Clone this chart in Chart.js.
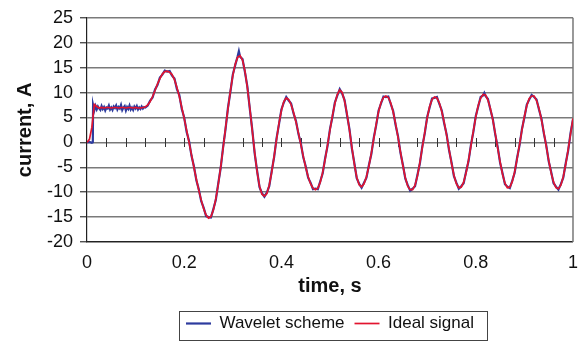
<!DOCTYPE html>
<html>
<head>
<meta charset="utf-8">
<script src="https://cdn.jsdelivr.net/npm/chart.js@4.4.0/dist/chart.umd.min.js"></script>
<style>
  html, body { margin: 0; padding: 0; background: #fff; }
  #wrap { width: 588px; height: 342px; }
</style>
</head>
<body>
<div id="wrap"><canvas id="currentChart" width="588" height="342"></canvas></div>
<script>
// ==================== CURRENT vs TIME ====================
// ideal signal, sampled every 5 ms
const idealTime = [
  0, 0.005, 0.01, 0.015, 0.02, 0.025, 0.03, 0.035, 0.04, 0.045, 0.05, 0.055, 0.06, 0.065, 0.07, 0.075, 0.08, 0.085, 0.09, 0.095,
  0.1, 0.105, 0.11, 0.115, 0.12, 0.125, 0.13, 0.135, 0.14, 0.145, 0.15, 0.155, 0.16, 0.165, 0.17, 0.175, 0.18, 0.185, 0.19, 0.195,
  0.2, 0.205, 0.21, 0.215, 0.22, 0.225, 0.23, 0.235, 0.24, 0.245, 0.25, 0.255, 0.26, 0.265, 0.27, 0.275, 0.28, 0.285, 0.29, 0.295,
  0.3, 0.305, 0.31, 0.315, 0.32, 0.325, 0.33, 0.335, 0.34, 0.345, 0.35, 0.355, 0.36, 0.365, 0.37, 0.375, 0.38, 0.385, 0.39, 0.395,
  0.4, 0.405, 0.41, 0.415, 0.42, 0.425, 0.43, 0.435, 0.44, 0.445, 0.45, 0.455, 0.46, 0.465, 0.47, 0.475, 0.48, 0.485, 0.49, 0.495,
  0.5, 0.505, 0.51, 0.515, 0.52, 0.525, 0.53, 0.535, 0.54, 0.545, 0.55, 0.555, 0.56, 0.565, 0.57, 0.575, 0.58, 0.585, 0.59, 0.595,
  0.6, 0.605, 0.61, 0.615, 0.62, 0.625, 0.63, 0.635, 0.64, 0.645, 0.65, 0.655, 0.66, 0.665, 0.67, 0.675, 0.68, 0.685, 0.69, 0.695,
  0.7, 0.705, 0.71, 0.715, 0.72, 0.725, 0.73, 0.735, 0.74, 0.745, 0.75, 0.755, 0.76, 0.765, 0.77, 0.775, 0.78, 0.785, 0.79, 0.795,
  0.8, 0.805, 0.81, 0.815, 0.82, 0.825, 0.83, 0.835, 0.84, 0.845, 0.85, 0.855, 0.86, 0.865, 0.87, 0.875, 0.88, 0.885, 0.89, 0.895,
  0.9, 0.905, 0.91, 0.915, 0.92, 0.925, 0.93, 0.935, 0.94, 0.945, 0.95, 0.955, 0.96, 0.965, 0.97, 0.975, 0.98, 0.985, 0.99, 0.995,
  1
];
const idealCurrent = [
  0, 0.6, 3.0, 7.6, 7.2, 6.9, 7.0, 6.9, 7.0, 7.0, 6.9, 7.0, 7.0, 6.9, 7.0, 7.0, 6.9, 7.0, 7.0, 6.9,
  7.0, 6.9, 6.9, 7.0, 7.1, 7.5, 8.2, 9.2, 10.4, 11.7, 12.8, 13.7, 14.2, 14.3, 14.1, 13.6, 12.6, 11.0, 9.2, 7.0,
  4.8, 2.4, 0.0, -2.5, -5.0, -7.4, -9.6, -11.6, -13.3, -14.6, -15.2, -14.9, -13.6, -11.4, -8.5, -5.0, -1.2, 2.8, 6.7, 10.3,
  13.4, 15.7, 17.1, 17.4, 16.5, 14.3, 11.0, 6.9, 2.4, -2.0, -5.9, -8.8, -10.4, -10.8, -10.3, -8.6, -6.0, -2.8, 0.6, 3.8,
  6.4, 8.2, 8.9, 8.6, 7.6, 6.0, 4.1, 1.9, -0.4, -2.8, -5.0, -6.9, -8.3, -9.2, -9.5, -9.2, -8.0, -6.0, -3.4, -0.5,
  2.5, 5.3, 7.8, 9.6, 10.5, 10.0, 8.3, 5.7, 2.5, -1.0, -4.3, -7.0, -8.5, -8.9, -8.3, -6.9, -4.8, -2.2, 0.7, 3.6,
  6.2, 8.0, 9.0, 9.3, 9.0, 7.9, 6.1, 3.7, 1.0, -1.9, -4.7, -7.1, -8.8, -9.5, -9.5, -8.6, -6.7, -4.0, -1.0, 2.0,
  4.9, 7.2, 8.6, 9.1, 8.9, 7.9, 6.2, 4.0, 1.4, -1.4, -4.2, -6.6, -8.3, -9.1, -9.0, -8.0, -6.1, -3.6, -0.7, 2.3,
  5.1, 7.4, 8.9, 9.6, 9.5, 8.5, 6.8, 4.5, 1.8, -1.1, -3.9, -6.4, -8.2, -9.1, -9.0, -7.9, -5.9, -3.3, -0.4, 2.5,
  5.2, 7.4, 8.8, 9.3, 9.3, 8.4, 6.8, 4.6, 2.0, -0.8, -3.6, -6.1, -8.0, -9.1, -9.3, -8.6, -6.9, -4.4, -1.5, 1.7,
  4.8
];

// wavelet scheme output (noisy), denser where the jitter is visible
const waveletTime = [
  0, 0.005, 0.01, 0.012,
  0.0125, 0.015, 0.0175, 0.02, 0.0225, 0.025, 0.0275, 0.03, 0.0325, 0.035, 0.0375, 0.04, 0.0425, 0.045, 0.0475, 0.05, 0.0525, 0.055, 0.0575, 0.06,
  0.0625, 0.065, 0.0675, 0.07, 0.0725, 0.075, 0.0775, 0.08, 0.0825, 0.085, 0.0875, 0.09, 0.0925, 0.095, 0.0975, 0.1, 0.1025, 0.105, 0.1075, 0.11,
  0.1125, 0.115, 0.1175, 0.12,
  0.125, 0.13, 0.135, 0.14, 0.145, 0.15, 0.155, 0.16, 0.165, 0.17, 0.175, 0.18, 0.185, 0.19, 0.195,
  0.2, 0.205, 0.21, 0.215, 0.22, 0.225, 0.23, 0.235, 0.24, 0.245, 0.25, 0.255, 0.26, 0.265, 0.27, 0.275, 0.28, 0.285, 0.29, 0.295,
  0.3, 0.305, 0.31, 0.3125, 0.315, 0.32, 0.325, 0.33, 0.335, 0.34, 0.345, 0.35, 0.355, 0.36, 0.365, 0.37, 0.375, 0.38, 0.385, 0.39, 0.395,
  0.4, 0.405, 0.41, 0.415, 0.42, 0.425, 0.43, 0.435, 0.44, 0.445, 0.45, 0.455, 0.46, 0.465, 0.47, 0.475, 0.48, 0.485, 0.49, 0.495,
  0.5, 0.505, 0.51, 0.515, 0.52, 0.525, 0.53, 0.535, 0.54, 0.545, 0.55, 0.555, 0.56, 0.565, 0.57, 0.575, 0.58, 0.585, 0.59, 0.595,
  0.6, 0.605, 0.61, 0.615, 0.62, 0.625, 0.63, 0.635, 0.64, 0.645, 0.65, 0.655, 0.66, 0.665, 0.67, 0.675, 0.68, 0.685, 0.69, 0.695,
  0.7, 0.705, 0.71, 0.715, 0.72, 0.725, 0.73, 0.735, 0.74, 0.745, 0.75, 0.755, 0.76, 0.765, 0.77, 0.775, 0.78, 0.785, 0.79, 0.795,
  0.8, 0.805, 0.81, 0.815, 0.8175, 0.82, 0.825, 0.83, 0.835, 0.84, 0.845, 0.85, 0.855, 0.86, 0.865, 0.87, 0.875, 0.88, 0.885, 0.89, 0.895,
  0.9, 0.905, 0.91, 0.915, 0.92, 0.925, 0.93, 0.935, 0.94, 0.945, 0.95, 0.955, 0.96, 0.965, 0.97, 0.975, 0.98, 0.985, 0.99, 0.995,
  1
];
const waveletCurrent = [
  0, 0.1, -0.1, 0.0,
  7.5, 6.4, 7.3, 6.6, 7.2, 6.8, 6.5, 7.3, 6.7, 7.1, 6.4, 7.0, 6.8, 7.4, 6.6, 7.0, 6.5, 7.2, 6.9, 7.4,
  6.6, 7.1, 6.8, 7.5, 6.5, 7.0, 7.3, 6.4, 7.1, 6.7, 7.4, 6.6, 7.0, 6.5, 7.2, 6.8, 7.3, 6.6, 7.0, 6.7,
  7.2, 6.8, 7.1, 7.0,
  7.4, 8.4, 9.0, 10.6, 11.5, 13.0, 13.6, 14.4, 14.2, 14.3, 13.4, 12.8, 10.7, 9.5, 6.7,
  5.0, 2.1, 0.3, -2.7, -4.8, -7.6, -9.4, -11.8, -13.1, -14.8, -15.0, -15.1, -13.4, -11.6, -8.3, -5.2, -1.0, 2.6, 6.9, 10.1,
  13.6, 15.5, 17.3, 18.3, 17.2, 16.7, 14.1, 11.2, 6.7, 2.6, -2.2, -5.7, -9.0, -10.2, -10.9, -10.1, -8.8, -5.8, -3.0, 0.8, 3.6,
  6.6, 8.0, 9.1, 8.4, 7.8, 5.8, 4.3, 1.7, -0.2, -3.0, -4.8, -7.1, -8.1, -9.4, -9.3, -9.4, -7.8, -6.2, -3.2, -0.7,
  2.7, 5.1, 8.0, 9.4, 10.7, 9.8, 8.5, 5.5, 2.7, -1.2, -4.1, -7.2, -8.3, -9.1, -8.1, -7.1, -4.6, -2.4, 0.9, 3.4,
  6.4, 7.8, 9.2, 9.1, 9.2, 7.7, 6.3, 3.5, 1.2, -2.1, -4.5, -7.3, -8.6, -9.7, -9.3, -8.8, -6.5, -4.2, -0.8, 1.8,
  5.1, 7.0, 8.8, 8.9, 9.1, 7.7, 6.4, 3.8, 1.6, -1.6, -4.0, -6.8, -8.1, -9.3, -8.8, -8.2, -5.9, -3.8, -0.5, 2.1,
  5.3, 7.2, 9.1, 9.4, 9.9, 9.3, 8.7, 6.6, 4.7, 1.6, -0.9, -4.1, -6.2, -8.4, -8.9, -9.2, -7.7, -6.1, -3.1, -0.6, 2.7,
  5.0, 7.6, 8.6, 9.5, 9.1, 8.6, 6.6, 4.8, 1.8, -0.6, -3.8, -5.9, -8.2, -8.9, -9.5, -8.4, -7.1, -4.2, -1.7, 1.9,
  4.6
];

const xTickLabels = ['0', '0.2', '0.4', '0.6', '0.8', '1'];
const yTickLabels = ['-20', '-15', '-10', '-5', '0', '5', '10', '15', '20', '25'];
// little tick marks sitting on the zero line
const zeroLineTicks = [0.04, 0.08, 0.12, 0.16, 0.2, 0.24, 0.28, 0.32, 0.36, 0.4, 0.44, 0.48,
  0.52, 0.56, 0.6, 0.64, 0.68, 0.72, 0.76, 0.8, 0.84, 0.88, 0.92, 0.96];

const FONT = "'Liberation Sans', Arial, sans-serif";

function toPoints(xs, ys) {
  return xs.map((t, i) => ({ x: t, y: ys[i] }));
}

// zero-line ticks, right frame edge, and the box around the legend
const chartDecor = {
  id: 'chartDecor',
  beforeDatasetsDraw(chart) {
    const { ctx, chartArea, scales: { x, y } } = chart;
    const y0 = Math.round(y.getPixelForValue(0));
    ctx.save();
    ctx.strokeStyle = '#333';
    ctx.lineWidth = 1;
    ctx.beginPath();
    zeroLineTicks.forEach(t => {
      const px = Math.round(x.getPixelForValue(t)) + 0.5;
      ctx.moveTo(px, y0 - 4);
      ctx.lineTo(px, y0 + 5);
    });
    ctx.stroke();
    ctx.strokeStyle = '#777';
    ctx.lineWidth = 1.5;
    ctx.beginPath();
    ctx.moveTo(chartArea.right, chartArea.top);
    ctx.lineTo(chartArea.right, chartArea.bottom);
    ctx.stroke();
    ctx.restore();
  },
  afterDraw(chart) {
    const boxes = chart.legend && chart.legend.legendHitBoxes;
    if (!boxes || !boxes.length) return;
    const first = boxes[0];
    const last = boxes[boxes.length - 1];
    const mid = first.top + first.height / 2;
    const left = Math.round(first.left - 7) + 0.5;
    const right = Math.round(last.left + last.width + 13) + 0.5;
    const { ctx } = chart;
    ctx.save();
    ctx.strokeStyle = '#444';
    ctx.lineWidth = 1;
    ctx.strokeRect(left, Math.round(mid - 13) + 0.5, right - left, 29);
    ctx.restore();
  }
};

const currentChart = new Chart(document.getElementById('currentChart'), {
  type: 'line',
  data: {
    datasets: [{
      label: 'Wavelet scheme',
      data: toPoints(waveletTime, waveletCurrent),
      borderColor: '#2d3b9e',
      borderWidth: 2.2,
      pointRadius: 0,
      tension: 0,
      order: 2
    }, {
      label: 'Ideal signal',
      data: toPoints(idealTime, idealCurrent),
      borderColor: '#e2142f',
      borderWidth: 1.7,
      pointRadius: 0,
      tension: 0,
      order: 1
    }]
  },
  options: {
    responsive: false,
    animation: false,
    events: [],
    layout: { padding: { left: 0, right: 6, top: 13, bottom: 0 } },
    plugins: {
      tooltip: { enabled: false },
      legend: {
        position: 'bottom',
        fullSize: false,
        labels: {
          usePointStyle: true,
          pointStyle: 'line',
          pointStyleWidth: 25,
          padding: 10,
          color: '#111',
          font: { family: FONT, size: 17 },
          sort: (a, b) => a.datasetIndex - b.datasetIndex
        }
      }
    },
    scales: {
      x: {
        type: 'linear',
        min: 0,
        max: 1,
        afterFit: (scale) => { scale.height = 63; },
        ticks: {
          stepSize: 0.2,
          padding: 10,
          color: '#111',
          font: { family: FONT, size: 18 },
          maxRotation: 0,
          callback: (v) => xTickLabels[Math.round(v / 0.2)]
        },
        grid: { display: false, drawTicks: false },
        border: { display: true, color: '#222', width: 1.2 },
        title: {
          display: true,
          text: 'time, s',
          color: '#111',
          font: { family: FONT, size: 20, weight: 'bold' },
          padding: { top: 0, bottom: 7 }
        }
      },
      y: {
        min: -20,
        max: 25,
        afterFit: (scale) => { scale.width = 87; },
        ticks: {
          stepSize: 5,
          padding: 7,
          color: '#111',
          font: { family: FONT, size: 18 },
          callback: (v) => yTickLabels[Math.round((v + 20) / 5)]
        },
        grid: { color: '#7a7a7a', lineWidth: 1.5, tickLength: 7, tickColor: '#333', tickWidth: 1.2 },
        border: { display: true, color: '#222', width: 1.2 },
        title: {
          display: true,
          text: 'current, A',
          color: '#111',
          font: { family: FONT, size: 20, weight: 'bold' },
          padding: { top: 13, bottom: 0 }
        }
      }
    }
  },
  plugins: [chartDecor]
});
</script>
</body>
</html>
